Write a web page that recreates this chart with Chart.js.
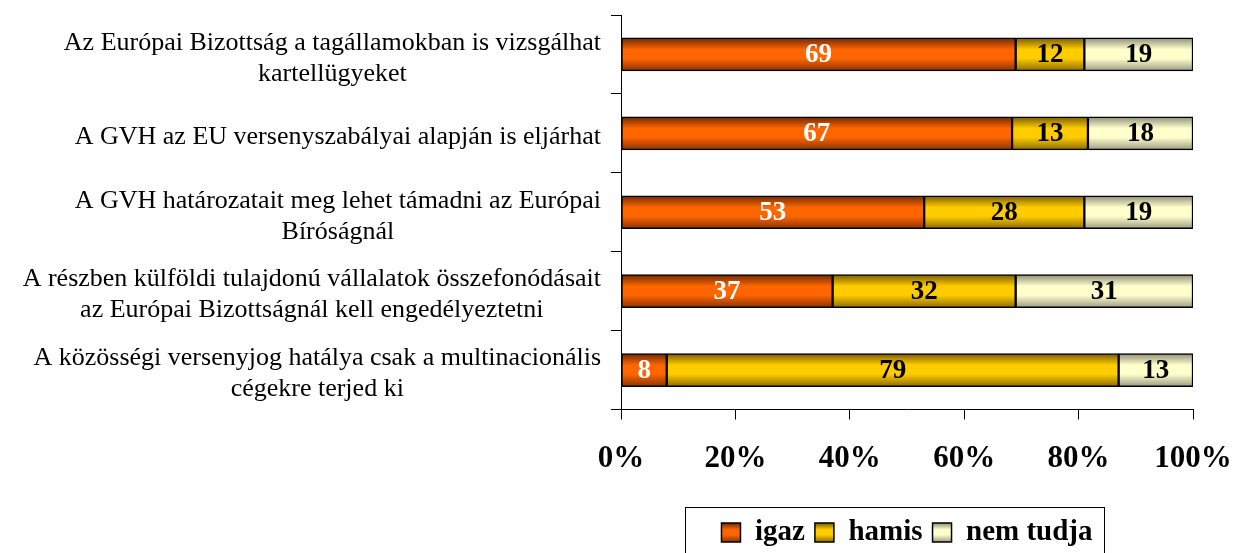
<!DOCTYPE html>
<html>
<head>
<meta charset="utf-8">
<script src="https://cdn.jsdelivr.net/npm/chart.js@4"></script>
<style>
  html, body { margin: 0; padding: 0; background: #fff; overflow: hidden; }
  #wrap { width: 1235px; height: 575px; position: relative; }
</style>
</head>
<body>
<div id="wrap"><canvas id="chart"></canvas></div>
<script>
const categories = [
  ['Az Európai Bizottság a tagállamokban is vizsgálhat', 'kartellügyeket'],
  ['A GVH az EU versenyszabályai alapján is eljárhat'],
  ['A GVH határozatait meg lehet támadni az Európai', 'Bíróságnál'],
  ['A részben külföldi tulajdonú vállalatok összefonódásait', 'az Európai Bizottságnál kell engedélyeztetni'],
  ['A közösségi versenyjog hatálya csak a multinacionális', 'cégekre terjed ki']
];
const seriesNames = ['igaz', 'hamis', 'nem tudja'];
const igaz = [69, 67, 53, 37, 8];
const hamis = [12, 13, 28, 32, 79];
const nemTudja = [19, 18, 19, 31, 13];
const xTicks = [0, 20, 40, 60, 80, 100];

// 100% stacked: each row is scaled to its own total (row 2 only adds up to 98)
const rowTotals = igaz.map((v, i) => v + hamis[i] + nemTudja[i]);

// dark edge -> bright middle -> dark edge, like the old Excel fill
const shades = [
  ['#6e2800', '#ff6600', '#ff6600', '#8a3200'],
  ['#7a5c00', '#ffcc00', '#ffcc00', '#8a6c00'],
  ['#8f8f78', '#ffffcc', '#ffffcc', '#9c9c84']
];
const BAR_H = 33;

function bandGradient(ctx, top, bottom, s) {
  const g = ctx.createLinearGradient(0, top, 0, bottom);
  g.addColorStop(0, s[0]);
  g.addColorStop(0.35, s[1]);
  g.addColorStop(0.62, s[2]);
  g.addColorStop(1, s[3]);
  return g;
}

function barFill(c) {
  const y = c.chart.scales.y;
  if (c.type !== 'data' || !y) return shades[c.datasetIndex][1];
  const mid = y.getPixelForValue(c.dataIndex);
  if (!isFinite(mid)) return shades[c.datasetIndex][1];
  return bandGradient(c.chart.ctx, mid - BAR_H / 2, mid + BAR_H / 2, shades[c.datasetIndex]);
}

// numbers inside the bars (the raw answers, not the scaled share)
const barLabels = {
  id: 'barLabels',
  afterDatasetsDraw(chart) {
    const ctx = chart.ctx;
    ctx.save();
    ctx.font = 'bold 27px "Liberation Serif"';
    ctx.textAlign = 'center';
    ctx.textBaseline = 'middle';
    chart.data.datasets.forEach((ds, di) => {
      chart.getDatasetMeta(di).data.forEach((bar, i) => {
        ctx.fillStyle = di === 0 ? '#fff' : '#000';
        ctx.fillText(ds.raw[i], (bar.x + bar.base) / 2, bar.y + 1);
      });
    });
    ctx.restore();
  }
};

// category text: block right aligned, lines centred inside it
const catLabels = {
  id: 'catLabels',
  afterDraw(chart) {
    const y = chart.scales.y;
    const ctx = chart.ctx;
    const right = chart.chartArea.left - 20;
    ctx.save();
    ctx.font = '26px "Liberation Serif"';
    ctx.fillStyle = '#000';
    ctx.textAlign = 'center';
    ctx.textBaseline = 'middle';
    categories.forEach((lines, i) => {
      const w = Math.max(...lines.map(l => ctx.measureText(l).width));
      const cx = right - w / 2;
      const mid = y.getPixelForValue(i) + 4;
      lines.forEach((l, k) => ctx.fillText(l, cx, mid + (k - (lines.length - 1) / 2) * 31));
    });
    ctx.restore();
  }
};

// gradient legend swatches + frame round the legend
const legendFrame = {
  id: 'legendFrame',
  beforeDraw(chart) {
    const lg = chart.legend;
    if (!lg || !lg.legendHitBoxes) return;
    lg.legendItems.forEach((it, i) => {
      const hb = lg.legendHitBoxes[i];
      if (!hb || !isFinite(hb.top)) return;
      const top = hb.top + (hb.height - 19) / 2;
      it.fillStyle = bandGradient(chart.ctx, top, top + 19, shades[i]);
    });
  },
  afterDraw(chart) {
    const lg = chart.legend;
    const hb = lg.legendHitBoxes;
    const first = hb[0], last = hb[hb.length - 1];
    const ctx = chart.ctx;
    ctx.save();
    ctx.strokeStyle = '#000';
    ctx.lineWidth = 1;
    const x0 = Math.round(first.left - 36) + 0.5;
    const x1 = Math.round(last.left + last.width + 11) + 0.5;
    ctx.strokeRect(x0, Math.round(lg.top - 1) + 0.5, x1 - x0, 80);
    ctx.restore();
  }
};

const datasets = [igaz, hamis, nemTudja].map((vals, i) => ({
  label: seriesNames[i],
  raw: vals,
  data: vals.map((v, k) => v / rowTotals[k] * 100),
  backgroundColor: barFill,
  borderColor: '#000',
  borderWidth: 1.5,
  borderSkipped: false,
  barThickness: BAR_H
}));

new Chart(document.getElementById('chart'), {
  type: 'bar',
  data: { labels: categories.map(l => l.join(' ')), datasets: datasets },
  options: {
    indexAxis: 'y',
    responsive: true,
    maintainAspectRatio: false,
    animation: false,
    layout: { padding: { top: 15, right: 42, bottom: 18, left: 0 } },
    plugins: {
      tooltip: { enabled: false },
      legend: {
        position: 'bottom',
        fullSize: false,
        labels: {
          color: '#000',
          boxWidth: 19,
          boxHeight: 19,
          padding: 10,
          font: { family: 'Liberation Serif', size: 29, weight: 'bold' }
        }
      }
    },
    scales: {
      x: {
        stacked: true,
        min: 0,
        max: 100,
        afterBuildTicks: s => { s.ticks = xTicks.map(v => ({ value: v })); },
        afterFit: s => { s.height = 98.5; },
        ticks: {
          callback: v => v + '%',
          color: '#000',
          padding: 2,
          maxRotation: 0,
          autoSkip: false,
          font: { family: 'Liberation Serif', size: 31, weight: 'bold', lineHeight: 2.4 }
        },
        grid: { drawOnChartArea: false, color: '#000', tickLength: 10 },
        border: { color: '#000', width: 1 }
      },
      y: {
        stacked: true,
        afterFit: s => { s.width = 621; },
        ticks: { display: false },
        grid: { offset: true, drawOnChartArea: false, color: '#000', tickLength: 10 },
        border: { color: '#000', width: 1 }
      }
    }
  },
  plugins: [barLabels, catLabels, legendFrame]
});
</script>
</body>
</html>
